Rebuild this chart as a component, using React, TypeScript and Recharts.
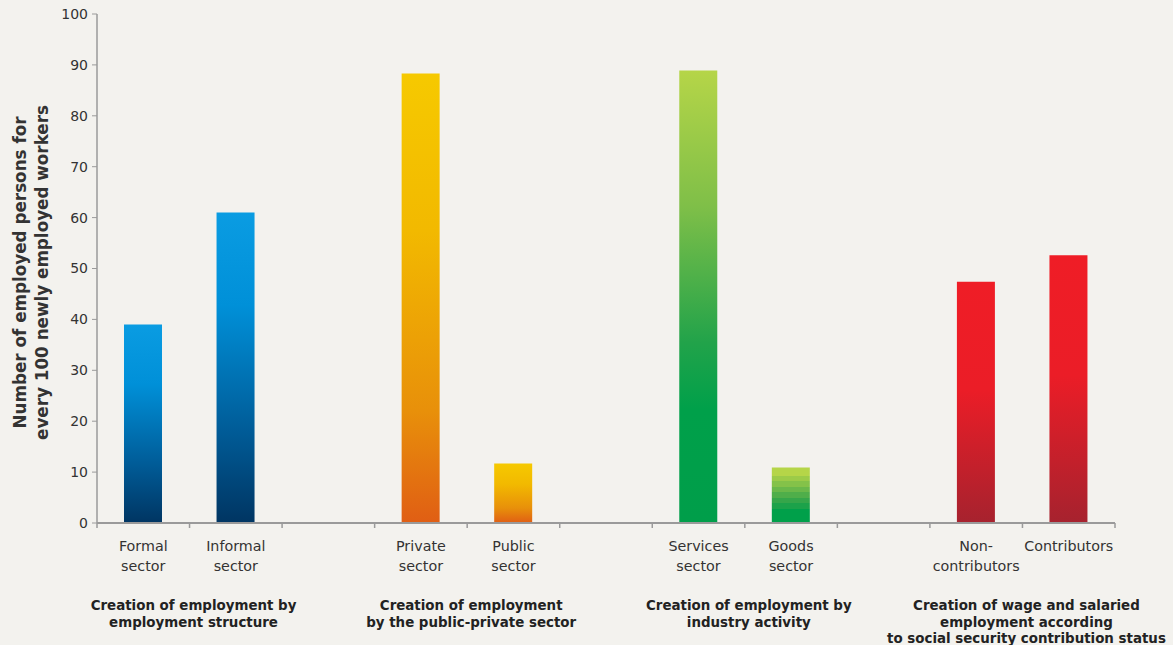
import { Bar, BarChart, Cell, XAxis, YAxis } from "recharts";

const slotKeys = ["formal", "informal", "gap1", "private", "public", "gap2", "services", "goods", "gap3", "noncontrib", "contrib"];
const categoryLabels: string[][] = [
  ["Formal", "sector"], ["Informal", "sector"], [],
  ["Private", "sector"], ["Public", "sector"], [],
  ["Services", "sector"], ["Goods", "sector"], [],
  ["Non-", "contributors"], ["Contributors"],
];
const values: (number | null)[] = [39, 61, null, 88.3, 11.7, null, 88.9, 10.9, null, 47.4, 52.6];
const fills = ["blue", "blue", "", "orange", "orange", "", "green", "goods", "", "red", "red"];
// group label sits on the boundary after the first slot of each group
const groupLabels: Record<number, string[]> = {
  0: ["Creation of employment by", "employment structure"],
  3: ["Creation of employment", "by the public-private sector"],
  6: ["Creation of employment by", "industry activity"],
  9: ["Creation of wage and salaried", "employment according", "to social security contribution status"],
};
const yTicks = [0, 10, 20, 30, 40, 50, 60, 70, 80, 90, 100];
const yTitle = ["Number of employed persons for", "every 100 newly employed workers"];

const data = slotKeys.map((key, i) => ({ key, value: values[i] }));

const FONT = "DejaVu Sans";
const INK = "#333";
const AXIS = "#9a9a9a";

const goodsSteps = [
  [0, 0.15, "#b5d548"], [0.15, 0.24, "#9ccb48"], [0.24, 0.35, "#84c249"], [0.35, 0.44, "#6ab84a"],
  [0.44, 0.55, "#4fae4a"], [0.55, 0.64, "#35a64a"], [0.64, 0.74, "#1ca24a"], [0.74, 1, "#00a04a"],
] as const;

function XTick(props: any) {
  const { x, y, payload } = props;
  const idx: number = payload.index;
  const off: number = payload.offset ?? 46;
  const lines = categoryLabels[idx] ?? [];
  const group = groupLabels[idx];
  return (
    <g>
      <line x1={x - off} x2={x - off} y1={y} y2={y + 5} stroke={AXIS} strokeWidth={1.5} />
      {idx === slotKeys.length - 1 && (
        <line x1={x + off} x2={x + off} y1={y} y2={y + 5} stroke={AXIS} strokeWidth={1.5} />
      )}
      <text textAnchor="middle" fontFamily={FONT} fontSize={14.3} fill={INK}>
        {lines.map((l, i) => (
          <tspan key={i} x={x} y={y + 28 + i * 20}>{l}</tspan>
        ))}
      </text>
      {group && (
        <text textAnchor="middle" fontFamily={FONT} fontSize={13.4} fontWeight="bold" fill="#222">
          {group.map((l, i) => (
            <tspan key={i} x={x + off + 4} y={y + 87 + i * 16.5}>{l}</tspan>
          ))}
        </text>
      )}
    </g>
  );
}

function YTitle(props: any) {
  const vb = props.viewBox ?? { x: 0, y: 14, width: 97, height: 509 };
  const cy = vb.y + vb.height / 2 + 4;
  return (
    <text
      transform={`translate(31, ${cy}) rotate(-90)`}
      textAnchor="middle"
      dominantBaseline="central"
      fontFamily={FONT}
      fontSize={16.8}
      fontWeight="bold"
      fill={INK}
    >
      {yTitle.map((l, i) => (
        <tspan key={i} x={0} y={(i - 0.5) * 21.5}>{l}</tspan>
      ))}
    </text>
  );
}

export default function App() {
  return (
    <div style={{ position: "fixed", left: 0, top: 0, width: 1173, height: 645, background: "#f3f2ee" }}>
      <BarChart width={1173} height={645} data={data} margin={{ top: 14, right: 58, bottom: 92, left: 0 }}>
        <defs>
          <linearGradient id="g-blue" x1="0" y1="0" x2="0" y2="1">
            <stop offset="0%" stopColor="#0a9ce2" />
            <stop offset="30%" stopColor="#0090d8" />
            <stop offset="70%" stopColor="#005c98" />
            <stop offset="100%" stopColor="#003562" />
          </linearGradient>
          <linearGradient id="g-orange" x1="0" y1="0" x2="0" y2="1">
            <stop offset="0%" stopColor="#f6c900" />
            <stop offset="35%" stopColor="#f2b900" />
            <stop offset="75%" stopColor="#e8900a" />
            <stop offset="100%" stopColor="#e05e14" />
          </linearGradient>
          <linearGradient id="g-green" x1="0" y1="0" x2="0" y2="1">
            <stop offset="0%" stopColor="#b5d548" />
            <stop offset="30%" stopColor="#7fbf48" />
            <stop offset="60%" stopColor="#22a34a" />
            <stop offset="75%" stopColor="#00a04a" />
            <stop offset="100%" stopColor="#009e4a" />
          </linearGradient>
          <linearGradient id="g-goods" x1="0" y1="0" x2="0" y2="1">
            {goodsSteps.flatMap(([a, b, c], i) => [
              <stop key={`a${i}`} offset={a} stopColor={c} />,
              <stop key={`b${i}`} offset={b} stopColor={c} />,
            ])}
          </linearGradient>
          <linearGradient id="g-red" x1="0" y1="0" x2="0" y2="1">
            <stop offset="0%" stopColor="#ef1d26" />
            <stop offset="45%" stopColor="#eb1d27" />
            <stop offset="100%" stopColor="#a6222e" />
          </linearGradient>
        </defs>
        <XAxis
          dataKey="key"
          interval={0}
          tickLine={false}
          tickSize={0}
          tickMargin={0}
          axisLine={{ stroke: AXIS, strokeWidth: 2 }}
          tick={<XTick />}
        />
        <YAxis
          width={97}
          domain={[0, 100]}
          ticks={yTicks}
          interval={0}
          tickSize={5}
          tickMargin={4}
          axisLine={{ stroke: AXIS, strokeWidth: 1.5 }}
          tickLine={{ stroke: AXIS }}
          tick={{ fontFamily: FONT, fontSize: 14, fill: INK }}
          label={{ content: <YTitle /> }}
        />
        <Bar dataKey="value" barSize={38} isAnimationActive={false}>
          {data.map((d, i) => (
            <Cell key={d.key} fill={fills[i] ? `url(#g-${fills[i]})` : "none"} />
          ))}
        </Bar>
      </BarChart>
    </div>
  );
}
